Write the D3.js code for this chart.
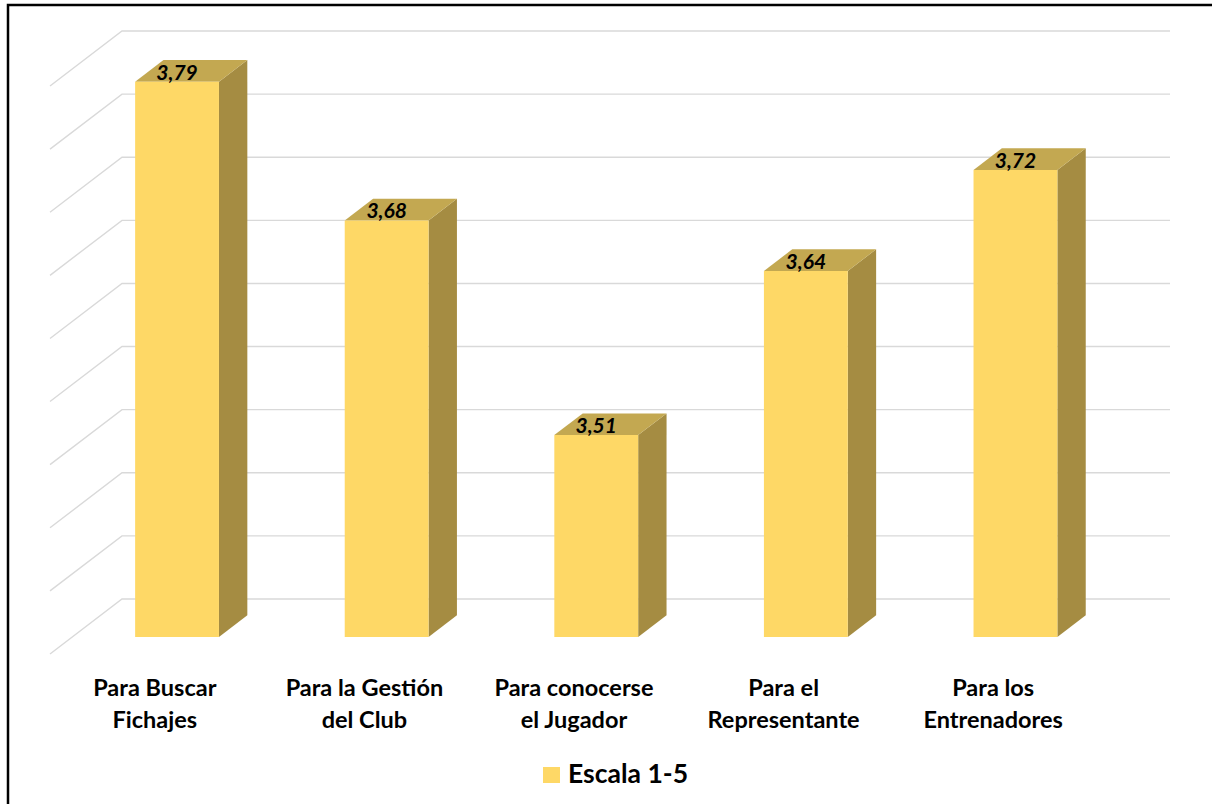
<!DOCTYPE html>
<html>
<head>
<meta charset="utf-8">
<script src="https://cdn.jsdelivr.net/npm/d3@7"></script>
<style>
  html, body { margin: 0; padding: 0; background: #fff; }
  svg { display: block; }
  text { font-family: Lato, "Open Sans", "Liberation Sans", sans-serif; }
</style>
</head>
<body>
<svg id="chart" width="1212" height="804"></svg>
<script>
// ---- data ----
const categories = [
  ["Para Buscar", "Fichajes"],
  ["Para la Gestión", "del Club"],
  ["Para conocerse", "el Jugador"],
  ["Para el", "Representante"],
  ["Para los", "Entrenadores"]
];
const values = [3.79, 3.68, 3.51, 3.64, 3.72];
const valueLabels = ["3,79", "3,68", "3,51", "3,64", "3,72"];
const yTicks = [3.35, 3.40, 3.45, 3.50, 3.55, 3.60, 3.65, 3.70, 3.75, 3.80];
const seriesName = "Escala 1-5";

// ---- layout ----
const W = 1212, H = 804;
const svg = d3.select("#chart");

const frontLeft = 50, frontRight = 1098, frontBase = 654;
const depthDX = 72, depthDY = 55;         // full wall depth offset
const zFront = 0.309, zBack = 0.703;       // bar depth within floor

const x = d3.scaleBand()
  .domain(d3.range(categories.length))
  .range([frontLeft, frontRight])
  .paddingInner(0.6)
  .paddingOuter(0.3);

const y = d3.scaleLinear().domain([3.35, 3.80]).range([0, 568]);

function P(px, v, z) {
  return [px + z * depthDX, frontBase - z * depthDY - y(v)];
}

// frame
svg.append("rect")
  .attr("x", 8).attr("y", 5)
  .attr("width", W).attr("height", H)
  .attr("fill", "none").attr("stroke", "#000").attr("stroke-width", 2.5);

// gridlines
const grid = svg.append("g").attr("stroke", "#d9d9d9").attr("stroke-width", 1.4).attr("fill", "none");
yTicks.forEach(t => {
  const a = P(frontLeft, t, 0), b = P(frontLeft, t, 1), c = P(frontRight, t, 1);
  grid.append("path").attr("d", `M${a[0]},${a[1]}L${b[0]},${b[1]}L${c[0]},${c[1]}`);
});

// bars
const colFront = "#fed866", colSide = "#a58c42", colTop = "#c3a851";
const bars = svg.append("g");
values.forEach((v, i) => {
  const x0 = x(i), x1 = x(i) + x.bandwidth();
  const fbl = P(x0, y.domain()[0], zFront), fbr = P(x1, y.domain()[0], zFront);
  const ftl = P(x0, v, zFront), ftr = P(x1, v, zFront);
  const btl = P(x0, v, zBack), btr = P(x1, v, zBack), bbr = P(x1, y.domain()[0], zBack);
  const poly = pts => "M" + pts.map(p => p.join(",")).join("L") + "Z";
  bars.append("path").attr("d", poly([fbr, ftr, btr, bbr])).attr("fill", colSide);
  bars.append("path").attr("d", poly([ftl, btl, btr, ftr])).attr("fill", colTop);
  bars.append("path").attr("d", poly([fbl, ftl, ftr, fbr])).attr("fill", colFront);
  // value label
  svg.append("text")
    .attr("x", (ftl[0] + ftr[0]) / 2)
    .attr("y", ftl[1] - 2)
    .attr("text-anchor", "middle")
    .attr("font-size", 21)
    .attr("font-weight", "bold")
    .attr("font-style", "italic")
    .attr("fill", "#000")
    .text(valueLabels[i]);
});

// category labels
categories.forEach((lines, i) => {
  const cx = x(i) + x.bandwidth() / 2;
  const t = svg.append("text")
    .attr("text-anchor", "middle")
    .attr("font-size", 23.5)
    .attr("font-weight", "bold")
    .attr("fill", "#000");
  lines.forEach((ln, k) => {
    t.append("tspan").attr("x", cx).attr("y", 696 + k * 32).text(ln);
  });
});

// legend
svg.append("rect").attr("x", 543).attr("y", 767).attr("width", 17).attr("height", 16).attr("fill", colFront);
svg.append("text")
  .attr("x", 568).attr("y", 783)
  .attr("font-size", 26.5)
  .attr("font-weight", "bold")
  .attr("fill", "#000")
  .text(seriesName);
</script>
</body>
</html>
